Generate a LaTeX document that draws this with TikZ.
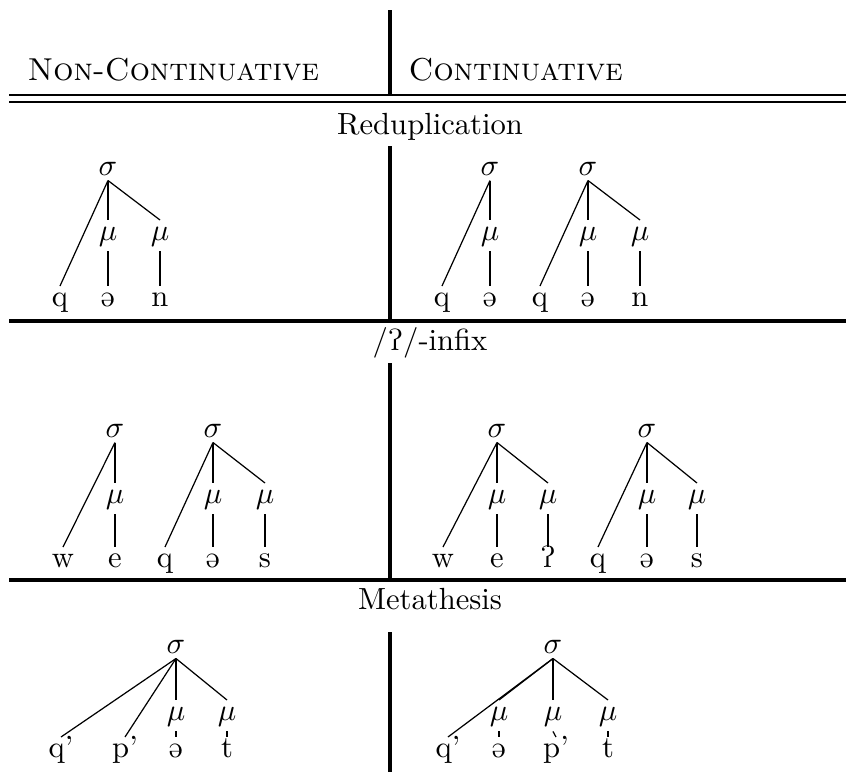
\documentclass[tikz,border=0pt]{standalone}
\usepackage{tipa}
\usepackage{tikz}
\usetikzlibrary{positioning}

\begin{document}
\begin{tikzpicture}[x=0.3268pt,y=-0.3268pt, every node/.style={inner sep=0pt},
  tn/.style={anchor=base,inner sep=1.6pt,text height=1.1ex},
  colhead/.style={anchor=base west,font=\fontsize{10.35pt}{12pt}\selectfont},
  tablerule/.style={line width=1pt}, dblrule/.style={line width=.65pt},
  branch/.style={line width=.4pt}]
\useasboundingbox (0,0) rectangle (846,772);
% header and rules
\node[colhead] (hnon) at (27,80) {\textsc{Non-Continuative}};
\node[colhead] (hcon) at (408,80) {\textsc{Continuative}};
\draw[tablerule] (390,10) -- (390,95);
\draw[dblrule] (9,95) -- (846,95); \draw[dblrule] (9,102) -- (846,102);
\node[anchor=base] (tred) at (430,134) {Reduplication};
\draw[tablerule] (390,146) -- (390,321);
\draw[tablerule] (9,321) -- (846,321);
\node[anchor=base] (tinf) at (430,350) {/\textglotstop/-infix};
\draw[tablerule] (390,363) -- (390,580);
\draw[tablerule] (9,580) -- (846,580);
\node[anchor=base] (tmet) at (430,609) {Metathesis};
\draw[tablerule] (390,632) -- (390,772);

% reduplication, non-continuative
\node[tn] (rs) at (108,175) {$\sigma$};
\node[tn] (rm1) at (108,240) {$\mu$}; \node[tn] (rm2) at (160,240) {$\mu$};
\node[tn] (rq) at (60,306) {q}; \node[tn] (ra) at (108,306) {\textschwa}; \node[tn] (rn) at (160,306) {n};
\draw[branch] (rs.south) -- (rq.north); \draw[branch] (rs.south) -- (rm1.north); \draw[branch] (rs.south) -- (rm2.north);
\draw[branch] (rm1.south) -- (ra.north); \draw[branch] (rm2.south) -- (rn.north);

% reduplication, continuative
\node[tn] (crs1) at (490,175) {$\sigma$}; \node[tn] (crs2) at (588,175) {$\sigma$};
\node[tn] (crm1) at (490,240) {$\mu$}; \node[tn] (crm2) at (588,240) {$\mu$}; \node[tn] (crm3) at (640,240) {$\mu$};
\node[tn] (crq1) at (442,306) {q}; \node[tn] (cra1) at (490,306) {\textschwa};
\node[tn] (crq2) at (540,306) {q}; \node[tn] (cra2) at (588,306) {\textschwa}; \node[tn] (crn) at (640,306) {n};
\draw[branch] (crs1.south) -- (crq1.north); \draw[branch] (crs1.south) -- (crm1.north);
\draw[branch] (crm1.south) -- (cra1.north);
\draw[branch] (crs2.south) -- (crq2.north); \draw[branch] (crs2.south) -- (crm2.north); \draw[branch] (crs2.south) -- (crm3.north);
\draw[branch] (crm2.south) -- (cra2.north); \draw[branch] (crm3.south) -- (crn.north);

% infix, non-continuative
\node[tn] (is1) at (115,437) {$\sigma$}; \node[tn] (is2) at (213,437) {$\sigma$};
\node[tn] (im1) at (115,503) {$\mu$}; \node[tn] (im2) at (213,503) {$\mu$}; \node[tn] (im3) at (265,503) {$\mu$};
\node[tn] (iw) at (63,567) {w}; \node[tn] (ie) at (115,567) {e};
\node[tn] (iq) at (165,567) {q}; \node[tn] (ia) at (213,567) {\textschwa}; \node[tn] (is) at (265,567) {s};
\draw[branch] (is1.south) -- (iw.north); \draw[branch] (is1.south) -- (im1.north);
\draw[branch] (im1.south) -- (ie.north);
\draw[branch] (is2.south) -- (iq.north); \draw[branch] (is2.south) -- (im2.north); \draw[branch] (is2.south) -- (im3.north);
\draw[branch] (im2.south) -- (ia.north); \draw[branch] (im3.south) -- (is.north);

% infix, continuative
\node[tn] (cis1) at (497,437) {$\sigma$}; \node[tn] (cis2) at (647,437) {$\sigma$};
\node[tn] (cim1) at (497,503) {$\mu$}; \node[tn] (cim2) at (548,503) {$\mu$};
\node[tn] (cim3) at (647,503) {$\mu$}; \node[tn] (cim4) at (697,503) {$\mu$};
\node[tn] (ciw) at (443,567) {w}; \node[tn] (cie) at (497,567) {e}; \node[tn] (cig) at (548,567) {\textglotstop};
\node[tn] (ciq) at (598,567) {q}; \node[tn] (cia) at (647,567) {\textschwa}; \node[tn] (cis) at (697,567) {s};
\draw[branch] (cis1.south) -- (ciw.north); \draw[branch] (cis1.south) -- (cim1.north); \draw[branch] (cis1.south) -- (cim2.north);
\draw[branch] (cim1.south) -- (cie.north); \draw[branch] (cim2.south) -- (cig.north);
\draw[branch] (cis2.south) -- (ciq.north); \draw[branch] (cis2.south) -- (cim3.north); \draw[branch] (cis2.south) -- (cim4.north);
\draw[branch] (cim3.south) -- (cia.north); \draw[branch] (cim4.south) -- (cis.north);

% metathesis, non-continuative
\node[tn] (ms) at (176,653) {$\sigma$};
\node[tn] (mm1) at (176,720) {$\mu$}; \node[tn] (mm2) at (227,720) {$\mu$};
\node[tn] (mq) at (61,757) {q'}; \node[tn] (mp) at (125,757) {p'};
\node[tn] (ma) at (176,757) {\textschwa}; \node[tn] (mt) at (227,757) {t};
\draw[branch] (ms.south) -- (mq.north); \draw[branch] (ms.south) -- (mp.north);
\draw[branch] (ms.south) -- (mm1.north); \draw[branch] (ms.south) -- (mm2.north);
\draw[branch] (mm1.south) -- (ma.north); \draw[branch] (mm2.south) -- (mt.north);

% metathesis, continuative
\node[tn] (cms) at (553,653) {$\sigma$};
\node[tn] (cmm1) at (499,720) {$\mu$}; \node[tn] (cmm2) at (553,720) {$\mu$}; \node[tn] (cmm3) at (608,720) {$\mu$};
\node[tn] (cmq) at (448,757) {q'}; \node[tn] (cma) at (499,757) {\textschwa};
\node[tn] (cmp) at (556,757) {p'}; \node[tn] (cmt) at (608,757) {t};
\draw[branch] (cms.south) -- (cmq.north); \draw[branch] (cms.south) -- (cmm1.north);
\draw[branch] (cms.south) -- (cmm2.north); \draw[branch] (cms.south) -- (cmm3.north);
\draw[branch] (cmm1.south) -- (cma.north); \draw[branch] (cmm2.south) -- (cmp.north); \draw[branch] (cmm3.south) -- (cmt.north);
\end{tikzpicture}
\end{document}
